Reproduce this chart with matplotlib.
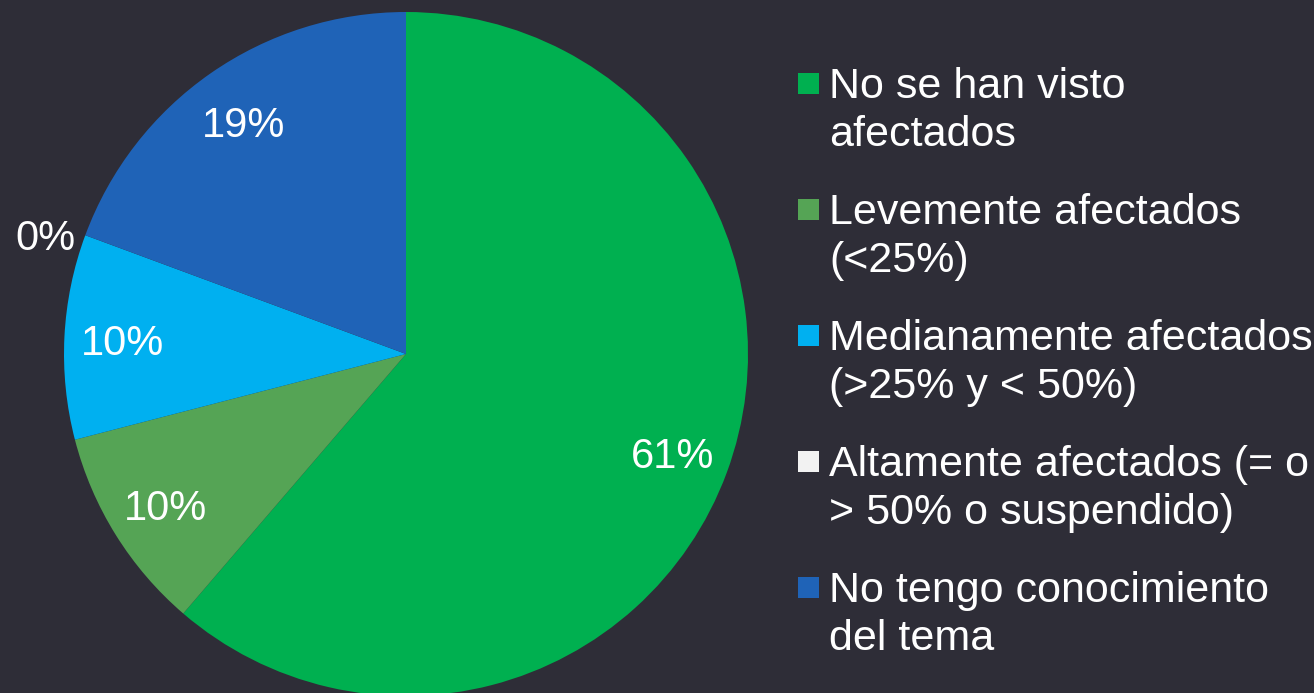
import numpy as np
import matplotlib
matplotlib.use('Agg')
import matplotlib.pyplot as plt
from matplotlib.patches import Rectangle

plt.rcParams['font.family'] = ['Liberation Sans', 'DejaVu Sans']

labels = [
    "No se han visto\nafectados",
    "Levemente afectados\n(<25%)",
    "Medianamente afectados\n(>25% y < 50%)",
    "Altamente afectados (= o\n> 50% o suspendido)",
    "No tengo conocimiento\ndel tema",
]
counts = [19, 3, 3, 0, 6]
colors = ["#00B050", "#55A455", "#00B0F0", "#F2F2F2", "#1F63B7"]
bg = "#2E2D37"

fig = plt.figure(figsize=(13.14, 6.93), dpi=100, facecolor=bg)
ax = fig.add_axes([64 / 1314, -3 / 693, 684 / 1314, 684 / 693])
ax.set_facecolor(bg)

wedges, texts, autotexts = ax.pie(
    counts, colors=colors, startangle=90, counterclock=False,
    autopct=lambda p: f"{p:.0f}%", pctdistance=0.83,
    wedgeprops=dict(linewidth=0),
    textprops=dict(color="white", fontsize=30),
)
ax.set_aspect('equal')
ax.set_xlim(-1, 1)
ax.set_ylim(-1, 1)

for t in autotexts:
    t.set_va("center_baseline")

# the empty slice gets its label pushed outside the pie
for w, t, c in zip(wedges, autotexts, counts):
    if c == 0:
        ang = np.deg2rad((w.theta1 + w.theta2) / 2 + 2)
        t.set_position((1.11 * np.cos(ang), 1.11 * np.sin(ang)))

# legend drawn by hand so markers sit on the first line
y0 = 83
step = 126
for i, (lab, col) in enumerate(zip(labels, colors)):
    y = y0 + i * step
    fig.patches.append(Rectangle((798 / 1314, 1 - (y + 11) / 693), 21 / 1314, 21 / 693,
                                 transform=fig.transFigure, facecolor=col, edgecolor='none'))
    fig.text(829 / 1314, 1 - (y - 16) / 693, lab, color="white", fontsize=31,
             va="top", ha="left", linespacing=1.27)

fig.savefig("out.png", dpi=100, facecolor=bg)
